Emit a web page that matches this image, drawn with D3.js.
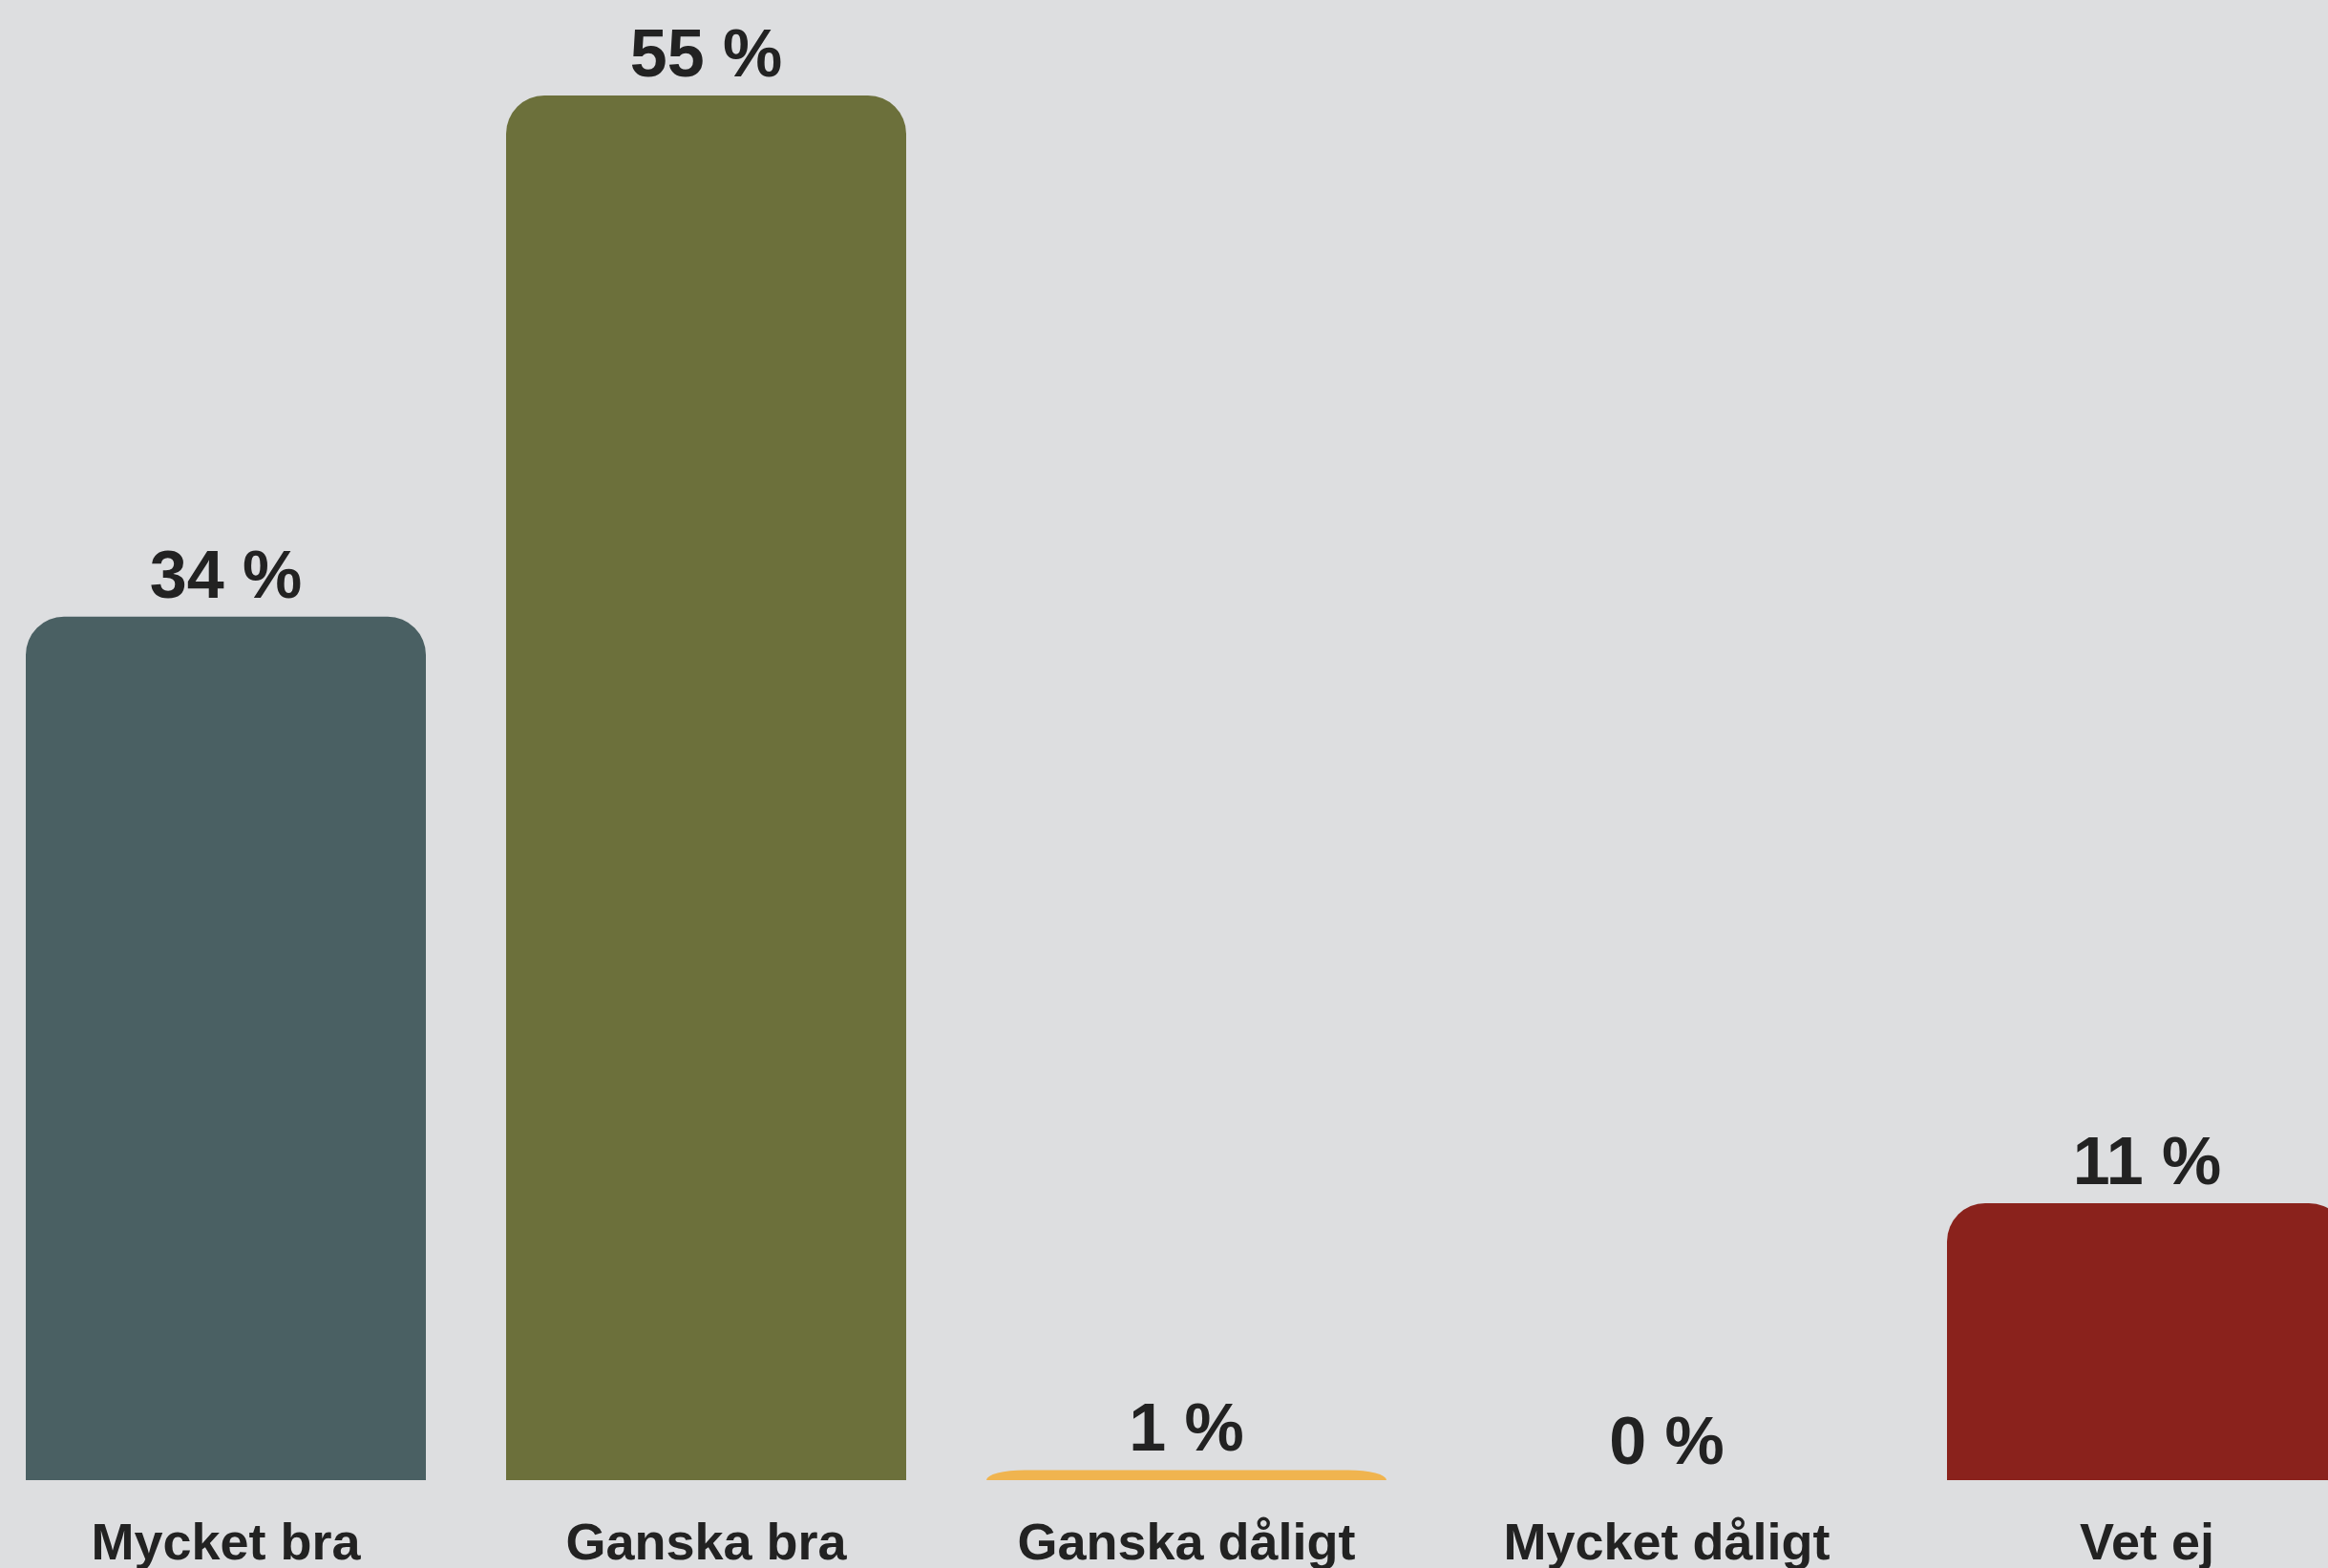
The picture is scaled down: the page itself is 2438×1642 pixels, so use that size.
<!DOCTYPE html>
<html>
<head>
<meta charset="utf-8">
<script src="https://cdn.jsdelivr.net/npm/d3@7"></script>
<style>
  html, body { margin: 0; padding: 0; background: #dddee0; overflow: hidden; }
  text { font-family: "Liberation Sans", Arial, Helvetica, sans-serif; font-weight: bold; fill: #222222; }
</style>
</head>
<body>
<script>
var width = 2438,
    height = 1642;

// survey answers, share of respondents (bar heights)
var categories = ['Mycket bra', 'Ganska bra', 'Ganska dåligt', 'Mycket dåligt', 'Vet ej'];
var shares = [34.3, 55, 0.4, 0, 11];
var valueLabels = ['34 %', '55 %', '1 %', '0 %', '11 %'];
var colors = ['#4a6063', '#6c703b', '#f0b44f', '#dddee0', '#8a221c'];

var baseline = 1550;
var cornerRad = 40;

var svg = d3.select('body')
    .append('svg')
    .attr('width', width)
    .attr('height', height)
    .style('background', '#dddee0');

var x = d3.scaleBand()
    .domain(categories)
    .range([27, 2458])
    .paddingInner(0.167)
    .paddingOuter(0);

var y = d3.scaleLinear()
    .domain([0, 55])
    .range([baseline, 100]);

var data = categories.map(function(c, i) {
    return { cat: c, val: shares[i], label: valueLabels[i], color: colors[i] };
});

// bar with rounded top corners, square bottom
var barPath = function(d) {
    var x0 = x(d.cat),
        w = x.bandwidth(),
        top = y(d.val),
        h = baseline - top;
    if (h <= 0) return null;
    var rx = Math.min(cornerRad, w / 2),
        ry = Math.min(cornerRad, h);
    return 'M' + x0 + ',' + baseline +
        'V' + (top + ry) +
        'A' + rx + ',' + ry + ' 0 0 1 ' + (x0 + rx) + ',' + top +
        'H' + (x0 + w - rx) +
        'A' + rx + ',' + ry + ' 0 0 1 ' + (x0 + w) + ',' + (top + ry) +
        'V' + baseline + 'Z';
};

svg.selectAll('path.bar')
    .data(data.filter(function(d) { return d.val > 0; }))
    .enter()
    .append('path')
    .classed('bar', true)
    .attr('d', barPath)
    .style('fill', function(d) { return d.color; });

svg.selectAll('text.value')
    .data(data)
    .enter()
    .append('text')
    .classed('value', true)
    .attr('x', function(d) { return x(d.cat) + x.bandwidth() / 2; })
    .attr('y', function(d) { return d.val > 0 ? y(d.val) - 20 : baseline - 17; })
    .attr('text-anchor', 'middle')
    .style('font-size', '70px')
    .text(function(d) { return d.label; });

svg.selectAll('text.cat')
    .data(data)
    .enter()
    .append('text')
    .classed('cat', true)
    .attr('x', function(d) { return x(d.cat) + x.bandwidth() / 2; })
    .attr('y', 1633)
    .attr('text-anchor', 'middle')
    .style('font-size', '54px')
    .text(function(d) { return d.cat; });
</script>
</body>
</html>
